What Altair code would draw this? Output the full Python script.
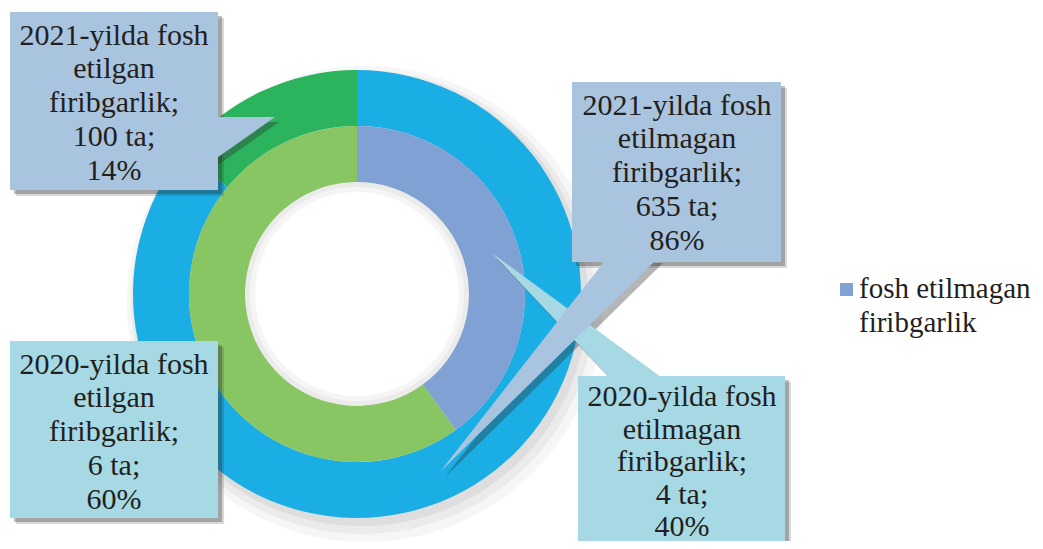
import altair as alt
import pandas as pd

# ---------------- data ----------------
years = ["2021", "2021", "2020", "2020"]
kinds = ["etilmagan", "etilgan", "etilmagan", "etilgan"]
counts = [635, 100, 4, 6]
percents = [86, 14, 40, 60]
legend_lines = ["fosh etilmagan", "firibgarlik"]

series = [f"{y} {k}" for y, k in zip(years, kinds)]
labels = [f"{y}-yilda fosh\n{k}\nfiribgarlik;\n{c} ta;\n{p}%"
          for y, k, c, p in zip(years, kinds, counts, percents)]

# ---------------- style / layout (page pixels) ----------------
W, H, M = 1043, 549, 8
CX, CY = 357, 294
R_OUT, R_MID, R_IN = 224, 168, 112
ring_colors = ["#1aaee5", "#2bb45d", "#7fa1d4", "#88c663"]
box_years = ["2021", "2020"]
box_colors = ["#a9c4df", "#a6d9e3"]
TEXT = "#231f20"
FONT = "Liberation Serif"

box_layout = {
    "2021 etilgan":   dict(x0=10,  y0=12,  x1=218, y1=190, tx=114, ty=44.5, lh=33.8),
    "2021 etilmagan": dict(x0=572, y0=82,  x1=781, y1=262, tx=677, ty=114.5, lh=33.8),
    "2020 etilgan":   dict(x0=10,  y0=341, x1=218, y1=518, tx=114, ty=373.5, lh=33.8),
    "2020 etilmagan": dict(x0=578, y0=376, x1=785, y1=560, tx=682, ty=406, lh=32.6),
}
# pointers: vertical areas (x, y, y2) / horizontal areas (y, x, x2)
ptr_tl = dict(series="2021 etilgan", year="2021", x=[214, 275], y=[117, 117], y2=[160, 117])
ptr_tr = dict(series="2021 etilmagan", year="2021", y=[258, 472], x=[607, 440], x2=[658, 440])
ptr_br = dict(series="2020 etilmagan", year="2020", y=[253, 380], x=[492, 612], x2=[492, 665])

xs = alt.Scale(domain=[M, W - M], nice=False, zero=False)
ys = alt.Scale(domain=[M, H - M], nice=False, zero=False, reverse=True)

df = pd.DataFrame({"year": years, "kind": kinds, "count": counts, "pct": percents,
                   "series": series, "label": labels, "ord": [0, 1, 0, 1]})

one = pd.DataFrame({"a": [0]})


def full_ring(r_out, r_in, dx, dy, opacity, color="#000000"):
    return alt.Chart(one).mark_arc(theta=0, theta2=6.2832, radius=r_out, radius2=r_in,
                                   color=color, opacity=opacity).encode(
        x=alt.value(CX - M + dx), y=alt.value(CY - M + dy))


def ring(year, r_out, r_in):
    return alt.Chart(df[df.year == year]).mark_arc(radius=r_out, radius2=r_in).encode(
        theta=alt.Theta("pct:Q", stack=True, scale=alt.Scale(domain=[0, 100])),
        order=alt.Order("ord:Q", sort="ascending"),
        color=alt.Color("series:N", scale=alt.Scale(domain=series, range=ring_colors), legend=None),
        x=alt.value(CX - M), y=alt.value(CY - M),
    )


# donut soft shadow
donut_shadow = [
    full_ring(R_OUT + 14, 0, 8, 10, 0.035),
    full_ring(R_OUT + 8, 0, 6, 8, 0.045),
    full_ring(R_OUT + 3, 0, 4, 5, 0.055),
]
hole_white = full_ring(R_IN, 0, 0, 0, 1, "#ffffff")

rings = [ring("2021", R_OUT, R_MID), ring("2020", R_MID, R_IN)]
hole_shadow = [full_ring(R_IN, R_IN - 10, 0, 0, 0.04), full_ring(R_IN, R_IN - 5, 0, 0, 0.04)]

# boxes
rows = []
for s, y, l in zip(series, years, labels):
    b = box_layout[s]
    rows.append({**b, "series": s, "year": y, "label": l})
box_df = pd.DataFrame(rows)

fill_scale = alt.Scale(domain=box_years, range=box_colors)


def box_shadow(dx, dy, op):
    d = box_df.assign(sx0=box_df.x0 + dx, sx1=box_df.x1 + dx,
                      sy0=box_df.y0 + dy, sy1=box_df.y1 + dy)
    return alt.Chart(d).mark_rect(color="#2a2a2a", opacity=op).encode(
        x=alt.X("sx0:Q", scale=xs, axis=None), x2="sx1:Q",
        y=alt.Y("sy0:Q", scale=ys, axis=None), y2="sy1:Q")


boxes = alt.Chart(box_df).mark_rect().encode(
    x=alt.X("x0:Q", scale=xs, axis=None), x2="x1:Q",
    y=alt.Y("y0:Q", scale=ys, axis=None), y2="y1:Q",
    fill=alt.Fill("year:N", scale=fill_scale, legend=None))


def box_text(lh):
    return alt.Chart(box_df[box_df.lh == lh]).mark_text(
        font=FONT, fontSize=30, color=TEXT, align="center", baseline="alphabetic",
        lineBreak="\n", lineHeight=lh).encode(
        x=alt.X("tx:Q", scale=xs, axis=None), y=alt.Y("ty:Q", scale=ys, axis=None),
        text="label:N")


texts = [box_text(lh) for lh in sorted(box_df.lh.unique())]


def vptr(p, dx=0, dy=0, shadow=False):
    d = pd.DataFrame({"px": [v + dx for v in p["x"]], "py": [v + dy for v in p["y"]],
                      "py2": [v + dy for v in p["y2"]], "year": p["year"]})
    m = alt.Chart(d).mark_area(orient="vertical", **({"color": "#2a2a2a", "opacity": 0.35} if shadow else {}))
    enc = dict(x=alt.X("px:Q", scale=xs, axis=None), y=alt.Y("py:Q", scale=ys, axis=None), y2="py2:Q")
    if not shadow:
        enc["fill"] = alt.Fill("year:N", scale=fill_scale, legend=None)
    return m.encode(**enc)


def hptr(p, dx=0, dy=0, shadow=False):
    d = pd.DataFrame({"py": [v + dy for v in p["y"]], "px": [v + dx for v in p["x"]],
                      "px2": [v + dx for v in p["x2"]], "year": p["year"]})
    m = alt.Chart(d).mark_area(orient="horizontal", **({"color": "#2a2a2a", "opacity": 0.35} if shadow else {}))
    enc = dict(y=alt.Y("py:Q", scale=ys, axis=None), x=alt.X("px:Q", scale=xs, axis=None), x2="px2:Q")
    if not shadow:
        enc["fill"] = alt.Fill("year:N", scale=fill_scale, legend=None)
    return m.encode(**enc)


pointers = [
    vptr(ptr_tl, 4, 5, True), hptr(ptr_br, 4, 5, True), hptr(ptr_tr, 5, 5, True),
    vptr(ptr_tl), hptr(ptr_br), hptr(ptr_tr),
]

# legend (drawn manually: only one entry in the original)
leg_sq = pd.DataFrame({"x0": [840], "x1": [853], "y0": [283], "y1": [296], "series": [series[2]]})
legend_sq = alt.Chart(leg_sq).mark_rect().encode(
    x=alt.X("x0:Q", scale=xs, axis=None), x2="x1:Q",
    y=alt.Y("y0:Q", scale=ys, axis=None), y2="y1:Q",
    color=alt.Color("series:N", scale=alt.Scale(domain=series, range=ring_colors), legend=None))
leg_txt = pd.DataFrame({"x": [859], "y": [298], "t": ["\n".join(legend_lines)]})
legend_text = alt.Chart(leg_txt).mark_text(
    font=FONT, fontSize=29, color=TEXT, align="left", baseline="alphabetic",
    lineBreak="\n", lineHeight=33.5).encode(
    x=alt.X("x:Q", scale=xs, axis=None), y=alt.Y("y:Q", scale=ys, axis=None), text="t:N")

layers = (donut_shadow + [hole_white] + rings + hole_shadow
          + [box_shadow(6, 6, 0.18), box_shadow(4, 4, 0.3)]
          + pointers + [boxes] + texts + [legend_sq, legend_text])

chart = alt.layer(*layers).properties(
    width=W - 2 * M, height=H - 2 * M, padding=0, autosize="none", background="#ffffff"
).configure_view(strokeWidth=0)

chart.save("out.html", embed_options={"renderer": "svg", "actions": False})
